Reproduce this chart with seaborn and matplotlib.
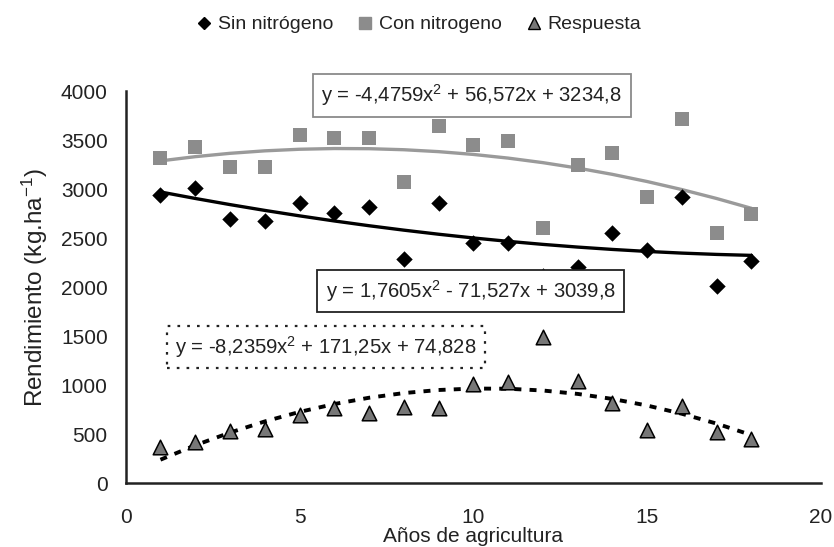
import numpy as np
import pandas as pd
import matplotlib
matplotlib.use("Agg")
import matplotlib.pyplot as plt
from matplotlib.lines import Line2D
import seaborn as sns

# Years of agriculture
anios = list(range(1, 19))

# Yield without nitrogen (kg/ha)
sin_n = [2942, 3013, 2691, 2670, 2860, 2758, 2813, 2286, 2860,
         2446, 2446, 2116, 2201, 2548, 2378, 2915, 2010, 2268]
# Yield with nitrogen (kg/ha)
con_n = [3313, 3432, 3221, 3221, 3551, 3517, 3517, 3068, 3643,
         3449, 3486, 2602, 3248, 3364, 2915, 3711, 2551, 2742]
# Response to nitrogen (kg/ha)
respuesta = [364, 415, 531, 554, 694, 762, 711, 779, 762,
             1007, 1034, 1486, 1044, 813, 541, 789, 517, 446]

# Quadratic trend coefficients (a, b, c) for y = a x^2 + b x + c
coef_sin = (1.7605, -71.527, 3039.8)
coef_con = (-4.4759, 56.572, 3234.8)
coef_resp = (-8.2359, 171.25, 74.828)

legend_labels = ["Sin nitrógeno", "Con nitrogeno", "Respuesta"]

sns.set_style("white")
plt.rcParams["font.family"] = ["Liberation Sans", "DejaVu Sans"]
plt.rcParams["mathtext.fontset"] = "custom"
plt.rcParams["mathtext.rm"] = "Liberation Sans"
plt.rcParams["mathtext.it"] = "Liberation Sans"

fig = plt.figure(figsize=(8.34, 5.47), dpi=100)
ax = fig.add_axes([0.1507, 0.117, 0.8337, 0.7166])

df = pd.DataFrame({"x": anios, "sin": sin_n, "con": con_n, "resp": respuesta})

def trend(coef):
    xs = np.asarray(anios, dtype=float)
    a, b, c = coef
    return pd.DataFrame({"x": xs, "y": a * xs**2 + b * xs + c})

t_sin, t_con, t_resp = trend(coef_sin), trend(coef_con), trend(coef_resp)

gray_sq = "#8c8c8c"
gray_line = "#9a9a9a"
gray_tri = "#777777"
ink = "#222222"

# Trend lines
sns.lineplot(data=t_con, x="x", y="y", ax=ax, color=gray_line, lw=2.4, zorder=2)
sns.lineplot(data=t_sin, x="x", y="y", ax=ax, color="black", lw=2.4, zorder=2)
sns.lineplot(data=t_resp, x="x", y="y", ax=ax, color="black", lw=2.8,
             zorder=2).lines[-1].set_dashes([1.8, 2.1])

# Observed points
sns.scatterplot(data=df, x="x", y="con", ax=ax, marker="s", s=90, color=gray_sq,
                edgecolor=gray_sq, linewidth=0, zorder=3)
sns.scatterplot(data=df, x="x", y="sin", ax=ax, marker="D", s=70, color="black",
                edgecolor="black", linewidth=0, zorder=3)
sns.scatterplot(data=df, x="x", y="resp", ax=ax, marker="^", s=110, color=gray_tri,
                edgecolor="black", linewidth=1.1, zorder=3)

ax.set_xlim(0, 20)
ax.set_ylim(0, 4000)
ax.set_xticks([0, 5, 10, 15, 20])
ax.set_yticks(range(0, 4001, 500))
for side in ("top", "right"):
    ax.spines[side].set_visible(False)
for side in ("left", "bottom"):
    ax.spines[side].set_color(ink)
    ax.spines[side].set_linewidth(1.8)
ax.tick_params(axis="both", which="both", direction="out", length=5, width=1.5,
               color=ink, labelsize=15, labelcolor=ink)
ax.tick_params(axis="x", pad=13)
ax.tick_params(axis="y", pad=8)
ax.set_xlabel("Años de agricultura", fontsize=15, labelpad=0, color=ink)
ax.set_ylabel(r"Rendimiento (kg.ha$^{-1}$)", fontsize=17.5, labelpad=8, color=ink)

# Equation boxes
eq_font = 14.6
ax.text(9.95, 3958, r"y = -4,4759x$^2$ + 56,572x + 3234,8", fontsize=eq_font,
        ha="center", va="center", color=ink, clip_on=False,
        bbox=dict(boxstyle="square,pad=0.42", fc="white", ec="#8a8a8a", lw=1.3))
ax.text(9.92, 1959, r"y = 1,7605x$^2$ - 71,527x + 3039,8", fontsize=eq_font,
        ha="center", va="center", color=ink,
        bbox=dict(boxstyle="square,pad=0.42", fc="white", ec=ink, lw=1.3))
ax.text(5.76, 1388, r"y = -8,2359x$^2$ + 171,25x + 74,828", fontsize=eq_font,
        ha="center", va="center", color=ink,
        bbox=dict(boxstyle="square,pad=0.42", fc="white", ec=ink, lw=1.6,
                  ls=(0, (1.2, 3.2))))

handles = [
    Line2D([], [], ls="", marker="D", ms=6.5, color="black", mec="black"),
    Line2D([], [], ls="", marker="s", ms=8, color=gray_sq, mec=gray_sq),
    Line2D([], [], ls="", marker="^", ms=8, color=gray_tri, mec="black", mew=1.0),
]
fig.legend(handles, legend_labels, loc="center", bbox_to_anchor=(0.501, 0.955),
           ncol=3, frameon=False, fontsize=14, handletextpad=0.2, columnspacing=1.15,
           handlelength=1.0, labelcolor=ink)

fig.savefig("out.png", dpi=100)
